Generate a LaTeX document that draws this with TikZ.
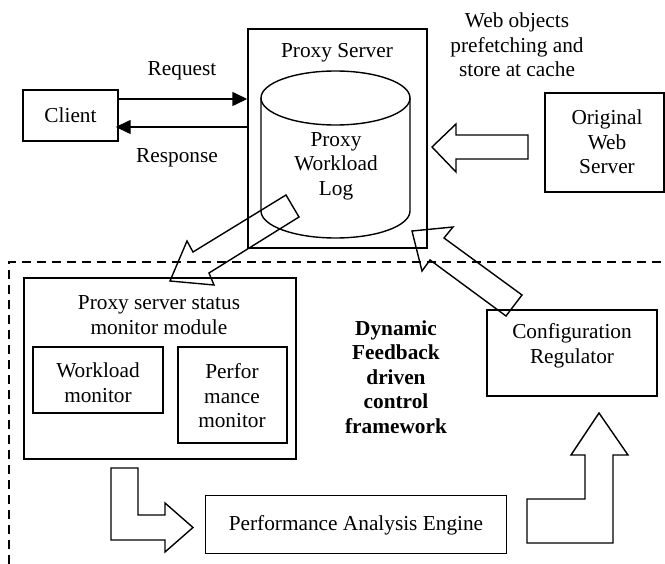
\documentclass[tikz,border=0pt]{standalone}
\usepackage{fontspec}
\setmainfont{Liberation Serif}
\usetikzlibrary{arrows.meta}
\begin{document}
\begin{tikzpicture}[x=1pt,y=-1pt,line width=1.4pt,
  box/.style={draw,rectangle,inner sep=0pt},
  txt/.style={font=\fontsize{21.3}{24.5}\selectfont,align=center,inner sep=0pt},
  blockarrow/.style={draw,line width=1.4pt,line join=miter},
  frame/.style={dash pattern=on 9pt off 6pt,line width=1.8pt},
  flow/.style={-{Triangle[length=15pt,width=14pt]}}]
\useasboundingbox (0,0) rectangle (665,564);

% dashed framework frame
\coordinate (frbl) at (9,564);
\coordinate (frtl) at (9,262);
\coordinate (frtr) at (666,262);
\draw[frame] (frbl) -- (frtl) -- (frtr);

% top boxes
\node[box,minimum width=95pt,minimum height=51pt] (client) at (70.5,115.5) {};
\node[txt] (clientlabel) at (client.center) {Client};
\node[box,minimum width=179pt,minimum height=219pt] (proxy) at (337.5,138.5) {};
\node[txt] (proxylabel) at (337,53) {Proxy Server};
\node[box,minimum width=119pt,minimum height=99pt] (origin) at (604.5,142.5) {};
\node[txt] (originlabel) at (607,142) {Original\\Web\\Server};
\node[txt] (weblabel) at (517,45) {Web objects\\prefetching and\\store at cache};

% cylinder
\draw (261,98) -- (261,211) arc[start angle=180,end angle=0,x radius=74.5,y radius=27] -- (410,98);
\draw (335.5,98) ellipse[x radius=74.5,y radius=27];
\node[txt] (loglabel) at (336,166) {Proxy\\Workload\\Log};

% request / response
\draw[flow] (client.east |- 0,99) -- (proxy.west |- 0,99);
\draw[flow] (proxy.west |- 0,127) -- ([xshift=-3pt]client.east |- 0,127);
\node[txt] (req) at (182,71) {Request};
\node[txt] (resp) at (177,158) {Response};

% lower boxes
\node[box,minimum width=272pt,minimum height=181pt] (status) at (160,368.5) {};
\node[txt] (statuslabel) at (159,315) {Proxy server status\\monitor module};
\node[box,minimum width=130pt,minimum height=66pt] (workload) at (98,380) {};
\node[txt] (workloadlabel) at (98,382.5) {Workload\\monitor};
\node[box,minimum width=109pt,minimum height=96pt] (perf) at (232.5,395) {};
\node[txt] (perflabel) at (232,396) {Perfor\\mance\\monitor};
\node[box,minimum width=301pt,minimum height=58pt] (pae) at (356,524.5) {};
\node[txt] (paelabel) at (356,525) {Performance Analysis Engine};
\node[box,minimum width=170pt,minimum height=86pt] (config) at (572,353) {};
\node[txt] (configlabel) at (572,346) {Configuration\\Regulator};
\node[txt,font=\fontsize{21.3}{24.5}\selectfont\bfseries] (fwlabel) at (396,377) {Dynamic\\Feedback\\driven\\control\\framework};

% block arrows
\draw[blockarrow] (528,135) -- (456,135) -- (456,124) -- (432,147) -- (456,172) -- (456,159) -- (528,159) -- cycle;
\draw[blockarrow] (286,195) -- (299,217) -- (209,273) -- (214,285) -- (170,281) -- (187,241) -- (193,252) -- cycle;
\draw[blockarrow] (522,295) -- (506,316) -- (430,260) -- (422,271) -- (412,231) -- (453,227) -- (444,238) -- cycle;
\draw[blockarrow] (111,468) -- (138,468) -- (138,515) -- (165,515) -- (165,503) -- (193,527.5) -- (165,552) -- (165,540) -- (111,540) -- cycle;
\draw[blockarrow] (585,455) -- (571,455) -- (599,413) -- (628,455) -- (613,455) -- (613,543) -- (527,543) -- (527,499) -- (585,499) -- cycle;
\end{tikzpicture}
\end{document}
